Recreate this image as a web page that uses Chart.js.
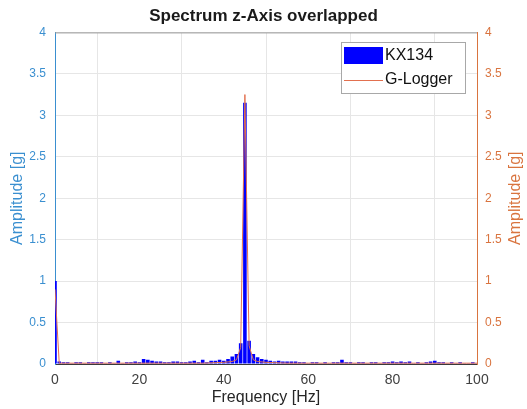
<!DOCTYPE html>
<html>
<head>
<meta charset="utf-8">
<script src="https://cdn.jsdelivr.net/npm/chart.js@4"></script>
<style>
  html, body { margin: 0; padding: 0; background: #fff; }
  #wrap { width: 527px; height: 409px; }
</style>
</head>
<body>
<div id="wrap"><canvas id="spectrum" width="527" height="409"></canvas></div>
<script>
// frequency bins [Hz]
const kxFreq = [0,1,2,3,4,5,6,7,8,9,10,11,12,13,14,15,16,17,18,19,20,21,22,23,24,25,26,27,28,29,30,
  31,32,33,34,35,36,37,38,39,40,41,42,43,44,45,46,47,48,49,50,51,52,53,54,55,56,57,58,59,60,
  61,62,63,64,65,66,67,68,69,70,71,72,73,74,75,76,77,78,79,80,81,82,83,84,85,86,87,88,89,90,
  91,92,93,94,95,96,97,98,99,100];
// KX134 amplitude [g]
const kxAmp = [1.0,0.03,0.02,0.02,0.01,0.02,0.02,0.01,0.02,0.02,0.02,0.02,0.01,0.02,0.01,0.04,0.01,0.02,0.02,0.03,0.02,
  0.06,0.05,0.04,0.03,0.03,0.02,0.02,0.03,0.03,0.02,0.02,0.03,0.04,0.02,0.05,0.02,0.04,0.04,0.05,0.04,
  0.06,0.09,0.12,0.25,3.15,0.28,0.12,0.08,0.06,0.05,0.04,0.03,0.04,0.03,0.03,0.03,0.03,0.02,0.02,0.01,
  0.02,0.02,0.01,0.02,0.01,0.02,0.02,0.05,0.02,0.02,0.01,0.02,0.02,0.01,0.02,0.02,0.01,0.02,0.02,0.03,
  0.02,0.03,0.02,0.03,0.01,0.02,0.01,0.02,0.03,0.04,0.02,0.02,0.01,0.02,0.01,0.02,0.01,0.01,0.02,0.01];

// G-Logger spectrum
const glFreq = [0,1,2,5,10,15,20,25,30,35,40,42,43,44,45,46,47,48,50,55,60,65,70,75,80,85,90,95,100];
const glAmp = [0.9,0.01,0.01,0.01,0.01,0.01,0.01,0.01,0.01,0.01,0.02,0.03,0.05,0.2,3.25,0.22,0.05,0.03,0.02,0.01,0.01,0.01,0.01,0.01,0.01,0.01,0.01,0.01,0.01];

const xTicks = [0, 20, 40, 60, 80, 100];
const yTicks = [0, 0.5, 1, 1.5, 2, 2.5, 3, 3.5, 4];

const BLUE_AX = '#3a8fd0';
const ORANGE_AX = '#d9743f';
const FONT = "'Liberation Sans', Arial, sans-serif";

const extras = {
  id: 'extras',
  afterDraw(chart) {
    const ctx = chart.ctx;
    const a = chart.chartArea;
    ctx.save();
    // top border of the axes box
    ctx.strokeStyle = '#9a9a9a';
    ctx.lineWidth = 1;
    ctx.beginPath();
    ctx.moveTo(a.left, a.top + 0.5);
    ctx.lineTo(a.right, a.top + 0.5);
    ctx.stroke();

    // right axis title, reading bottom to top like the left one
    ctx.save();
    ctx.translate(516, (a.top + a.bottom) / 2);
    ctx.rotate(-Math.PI / 2);
    ctx.fillStyle = ORANGE_AX;
    ctx.font = '16px ' + FONT;
    ctx.textAlign = 'center';
    ctx.textBaseline = 'middle';
    ctx.fillText('Amplitude [g]', 0, 0);
    ctx.restore();

    // legend
    const x = 341, y = 42, w = 124, h = 51;
    ctx.fillStyle = '#fff';
    ctx.fillRect(x, y, w, h);
    ctx.strokeStyle = '#a8a8a8';
    ctx.strokeRect(x + 0.5, y + 0.5, w, h);
    ctx.fillStyle = '#0000ff';
    ctx.fillRect(x + 3, y + 5, 39, 17);
    ctx.strokeStyle = '#e2704f';
    ctx.beginPath();
    ctx.moveTo(x + 3, y + 38.5);
    ctx.lineTo(x + 42, y + 38.5);
    ctx.stroke();
    ctx.fillStyle = '#111';
    ctx.font = '16px ' + FONT;
    ctx.textBaseline = 'middle';
    ctx.fillText(chart.data.datasets[0].label, x + 44, y + 14);
    ctx.fillText(chart.data.datasets[1].label, x + 44, y + 38);
    ctx.restore();
  }
};

const plainTick = v => String(v);

new Chart(document.getElementById('spectrum').getContext('2d'), {
  data: {
    datasets: [{
      type: 'bar',
      label: 'KX134',
      data: kxFreq.map((f, i) => ({ x: f, y: kxAmp[i] })),
      backgroundColor: '#0000ff',
      borderWidth: 0,
      barPercentage: 0.85,
      categoryPercentage: 1,
      xAxisID: 'x',
      yAxisID: 'y',
      order: 1
    }, {
      type: 'line',
      label: 'G-Logger',
      data: glFreq.map((f, i) => ({ x: f, y: glAmp[i] })),
      borderColor: '#e2704f',
      borderWidth: 1,
      pointRadius: 0,
      tension: 0,
      fill: false,
      xAxisID: 'x',
      yAxisID: 'y1',
      order: 0
    }]
  },
  options: {
    responsive: false,
    animation: false,
    layout: { padding: 0 },
    plugins: {
      legend: { display: false },
      tooltip: { enabled: false },
      title: {
        display: true,
        text: 'Spectrum z-Axis overlapped',
        color: '#1a1a1a',
        font: { family: FONT, size: 17, weight: 'bold' },
        padding: { top: 6, bottom: 6 }
      }
    },
    scales: {
      x: {
        type: 'linear',
        position: 'bottom',
        min: 0,
        max: 100,
        offset: false,
        afterBuildTicks: s => { s.ticks = xTicks.map(v => ({ value: v })); },
        afterFit: s => { s.height = 45; },
        ticks: { color: '#404040', font: { family: FONT, size: 14 }, padding: 8, maxRotation: 0, callback: plainTick },
        grid: { color: '#e6e6e6', drawTicks: false },
        border: { color: '#3a3a3a' },
        title: { display: true, text: 'Frequency [Hz]', color: '#262626', font: { family: FONT, size: 16 }, padding: { top: 0, bottom: 2 } }
      },
      y: {
        position: 'left',
        min: 0,
        max: 4,
        afterBuildTicks: s => { s.ticks = yTicks.map(v => ({ value: v })); },
        afterFit: s => { s.width = 55; },
        ticks: { color: BLUE_AX, font: { family: FONT, size: 12 }, padding: 9, callback: plainTick },
        grid: { color: '#e6e6e6', drawTicks: false },
        border: { color: BLUE_AX },
        title: { display: true, text: 'Amplitude [g]', color: BLUE_AX, font: { family: FONT, size: 16 }, padding: { top: 8, bottom: 0 } }
      },
      y1: {
        position: 'right',
        min: 0,
        max: 4,
        afterBuildTicks: s => { s.ticks = yTicks.map(v => ({ value: v })); },
        afterFit: s => { s.width = 50; },
        ticks: { color: ORANGE_AX, font: { family: FONT, size: 12 }, padding: 8, callback: plainTick },
        grid: { drawOnChartArea: false, drawTicks: false },
        border: { color: ORANGE_AX },
        title: { display: false }
      }
    }
  },
  plugins: [extras]
});
</script>
</body>
</html>
